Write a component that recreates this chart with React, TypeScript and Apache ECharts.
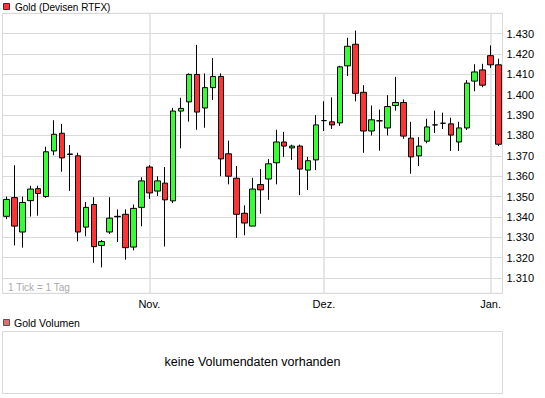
import React, { useEffect, useRef } from "react";
import * as echarts from "echarts";

const dates = [
  "06.10.2010", "07.10.2010", "08.10.2010", "11.10.2010", "12.10.2010", "13.10.2010",
  "14.10.2010", "15.10.2010", "18.10.2010", "19.10.2010", "20.10.2010", "21.10.2010",
  "22.10.2010", "25.10.2010", "26.10.2010", "27.10.2010", "28.10.2010", "29.10.2010",
  "01.11.2010", "02.11.2010", "03.11.2010", "04.11.2010", "05.11.2010", "08.11.2010",
  "09.11.2010", "10.11.2010", "11.11.2010", "12.11.2010", "15.11.2010", "16.11.2010",
  "17.11.2010", "18.11.2010", "19.11.2010", "22.11.2010", "23.11.2010", "24.11.2010",
  "25.11.2010", "26.11.2010", "29.11.2010", "30.11.2010",
  "01.12.2010", "02.12.2010", "03.12.2010", "06.12.2010", "07.12.2010", "08.12.2010",
  "09.12.2010", "10.12.2010", "13.12.2010", "14.12.2010", "15.12.2010", "16.12.2010",
  "17.12.2010", "20.12.2010", "21.12.2010", "22.12.2010", "23.12.2010", "27.12.2010",
  "28.12.2010", "29.12.2010", "30.12.2010",
  "03.01.2011", "04.01.2011",
];

const opens = [
  1340.3, 1349.5, 1332.6, 1348.0, 1353.9, 1350.0, 1372.4, 1381.1, 1370.9, 1370.0,
  1335.0, 1346.1, 1326.0, 1332.6, 1340.3, 1341.3, 1325.2, 1344.7, 1364.5, 1352.7,
  1356.6, 1347.9, 1392.0, 1396.5, 1410.0, 1393.5, 1403.5, 1409.0, 1371.0, 1359.0,
  1341.8, 1335.5, 1355.9, 1358.6, 1366.6, 1376.8, 1373.9, 1374.8, 1363.0, 1368.0,
  1387.3, 1386.7, 1386.2, 1414.2, 1424.8, 1401.2, 1382.2, 1387.2, 1383.7, 1394.7,
  1396.2, 1378.7, 1370.0, 1377.2, 1385.2, 1386.0, 1385.7, 1376.8, 1383.7, 1406.7,
  1412.2, 1419.2, 1414.7,
];

const closes = [
  1348.6, 1335.5, 1347.1, 1353.7, 1351.5, 1372.0, 1380.6, 1369.0, 1370.7, 1332.6,
  1344.7, 1325.4, 1327.9, 1339.4, 1340.1, 1324.9, 1344.2, 1357.7, 1351.8, 1357.7,
  1348.4, 1392.0, 1393.3, 1410.0, 1391.5, 1403.5, 1409.0, 1368.5, 1360.0, 1341.3,
  1337.0, 1353.7, 1353.3, 1366.1, 1376.8, 1374.8, 1374.8, 1363.5, 1367.6, 1385.2,
  1387.3, 1385.2, 1413.7, 1423.8, 1400.7, 1382.2, 1387.7, 1387.2, 1394.2, 1396.2,
  1379.7, 1369.5, 1374.8, 1384.2, 1385.2, 1386.0, 1380.2, 1383.7, 1405.7, 1411.2,
  1404.7, 1414.7, 1375.7,
];

const lows = [
  1338.9, 1326.0, 1324.9, 1340.2, 1340.6, 1349.4, 1370.3, 1362.2, 1352.8, 1328.0,
  1330.5, 1317.5, 1315.2, 1331.7, 1327.7, 1319.0, 1323.6, 1335.4, 1348.9, 1350.3,
  1325.5, 1346.8, 1373.7, 1386.8, 1382.8, 1383.8, 1397.5, 1360.0, 1356.0, 1329.7,
  1331.0, 1335.5, 1341.6, 1348.4, 1356.0, 1369.5, 1368.0, 1350.7, 1353.2, 1363.0,
  1382.2, 1383.2, 1384.7, 1409.2, 1396.8, 1371.5, 1380.0, 1372.5, 1380.0, 1392.2,
  1378.4, 1361.2, 1365.0, 1376.2, 1381.2, 1383.2, 1372.4, 1372.4, 1382.7, 1401.7,
  1403.7, 1413.2, 1374.8,
];

const highs = [
  1350.0, 1365.4, 1350.0, 1355.3, 1355.3, 1374.5, 1387.5, 1385.7, 1375.3, 1371.5,
  1347.3, 1349.7, 1328.7, 1349.7, 1343.7, 1343.7, 1346.1, 1359.5, 1365.4, 1360.0,
  1364.5, 1393.5, 1398.5, 1410.5, 1424.5, 1410.5, 1418.0, 1410.5, 1377.5, 1365.0,
  1345.7, 1359.2, 1363.5, 1368.4, 1382.8, 1381.8, 1375.5, 1375.5, 1369.5, 1390.0,
  1396.8, 1398.7, 1414.2, 1428.0, 1431.5, 1404.7, 1394.7, 1392.7, 1399.8, 1408.8,
  1397.7, 1386.7, 1379.2, 1388.2, 1392.2, 1391.2, 1388.7, 1386.7, 1407.2, 1415.0,
  1415.2, 1424.2, 1417.7,
];

const monthNames: Record<string, string> = {
  "10": "Okt.",
  "11": "Nov.",
  "12": "Dez.",
  "01": "Jan.",
};

const yMin = 1302.5;
const yMax = 1440;

const FONT = '"Liberation Sans", Arial, sans-serif';

function isMonthStart(i: number): boolean {
  return i > 0 && dates[i].slice(3, 5) !== dates[i - 1].slice(3, 5);
}

export default function App() {
  const ref = useRef<HTMLDivElement>(null);

  useEffect(() => {
    document.body.style.margin = "0";
    if (!ref.current) return;
    const chart = echarts.init(ref.current, null, { renderer: "svg" });

    const candleData = dates.map((_, i) => [opens[i], closes[i], lows[i], highs[i]]);
    const monthLines = dates
      .filter((_, i) => isMonthStart(i))
      .map((d) => ({ xAxis: d }));

    chart.setOption({
      animation: false,
      backgroundColor: "#ffffff",
      textStyle: { fontFamily: FONT },
      grid: {
        left: 2.5,
        right: 42.5,
        top: 13.3,
        bottom: 104.7,
        show: true,
        borderColor: "#d9d9d9",
        borderWidth: 1,
        backgroundColor: "#ffffff",
      },
      xAxis: {
        type: "category",
        data: dates,
        boundaryGap: true,
        axisLine: { show: false },
        axisTick: { show: false },
        splitLine: { show: false },
        axisLabel: {
          interval: (i: number) => isMonthStart(i),
          formatter: (v: string) => monthNames[v.slice(3, 5)] || "",
          margin: 5,
          fontSize: 11,
          color: "#000",
          fontFamily: FONT,
        },
      },
      yAxis: {
        type: "value",
        position: "right",
        min: yMin,
        max: yMax,
        splitNumber: 14,
        scale: true,
        axisLine: { show: false },
        axisTick: { show: false },
        splitLine: { show: true, lineStyle: { color: "#d9d9d9", width: 1 } },
        axisLabel: {
          showMinLabel: false,
          showMaxLabel: false,
          margin: 4,
          fontSize: 11,
          color: "#000",
          fontFamily: FONT,
          formatter: (v: number) => (v / 1000).toFixed(3),
        },
      },
      series: [
        {
          type: "candlestick",
          data: candleData,
          barWidth: 6,
          z: 2,
          itemStyle: {
            color: "#33ff33",
            color0: "#ff3333",
            borderColor: "#000000",
            borderColor0: "#000000",
            borderColorDoji: "#000000",
            borderWidth: 1,
            opacity: 1,
          },
          markLine: {
            silent: true,
            z: 1,
            symbol: ["none", "none"],
            label: { show: false },
            lineStyle: { color: "#dedede", width: 1.5, type: "solid" },
            emphasis: { disabled: true },
            data: monthLines,
          },
        },
      ],
      graphic: [
        {
          type: "rect",
          shape: { x: 3.5, y: 3.5, width: 6, height: 6 },
          style: { fill: "#ff3333", stroke: "#333333", lineWidth: 1 },
        },
        {
          type: "text",
          x: 15,
          y: 7,
          style: {
            text: "Gold (Devisen RTFX)",
            fontSize: 10,
            fontFamily: FONT,
            fill: "#000",
            verticalAlign: "middle",
            align: "left",
          },
        },
        {
          type: "text",
          x: 8,
          y: 287,
          z: 10,
          style: {
            text: "1 Tick = 1 Tag",
            fontSize: 10,
            fontFamily: FONT,
            fill: "#aaaaaa",
            verticalAlign: "middle",
            align: "left",
          },
        },
        {
          type: "rect",
          shape: { x: 3.5, y: 319.5, width: 6, height: 6 },
          style: { fill: "#dd6f6f", stroke: "#555555", lineWidth: 1 },
        },
        {
          type: "text",
          x: 14,
          y: 323,
          style: {
            text: "Gold Volumen",
            fontSize: 10.5,
            fontFamily: FONT,
            fill: "#000",
            verticalAlign: "middle",
            align: "left",
          },
        },
        {
          type: "rect",
          shape: { x: 2.5, y: 331.5, width: 500, height: 62 },
          style: { fill: "none", stroke: "#d9d9d9", lineWidth: 1 },
        },
        {
          type: "text",
          x: 252.5,
          y: 362,
          style: {
            text: "keine Volumendaten vorhanden",
            fontSize: 12.5,
            fontFamily: FONT,
            fill: "#000",
            verticalAlign: "middle",
            align: "center",
          },
        },
      ],
    });

    return () => {
      chart.dispose();
    };
  }, []);

  return <div ref={ref} style={{ width: 545, height: 398 }} />;
}
